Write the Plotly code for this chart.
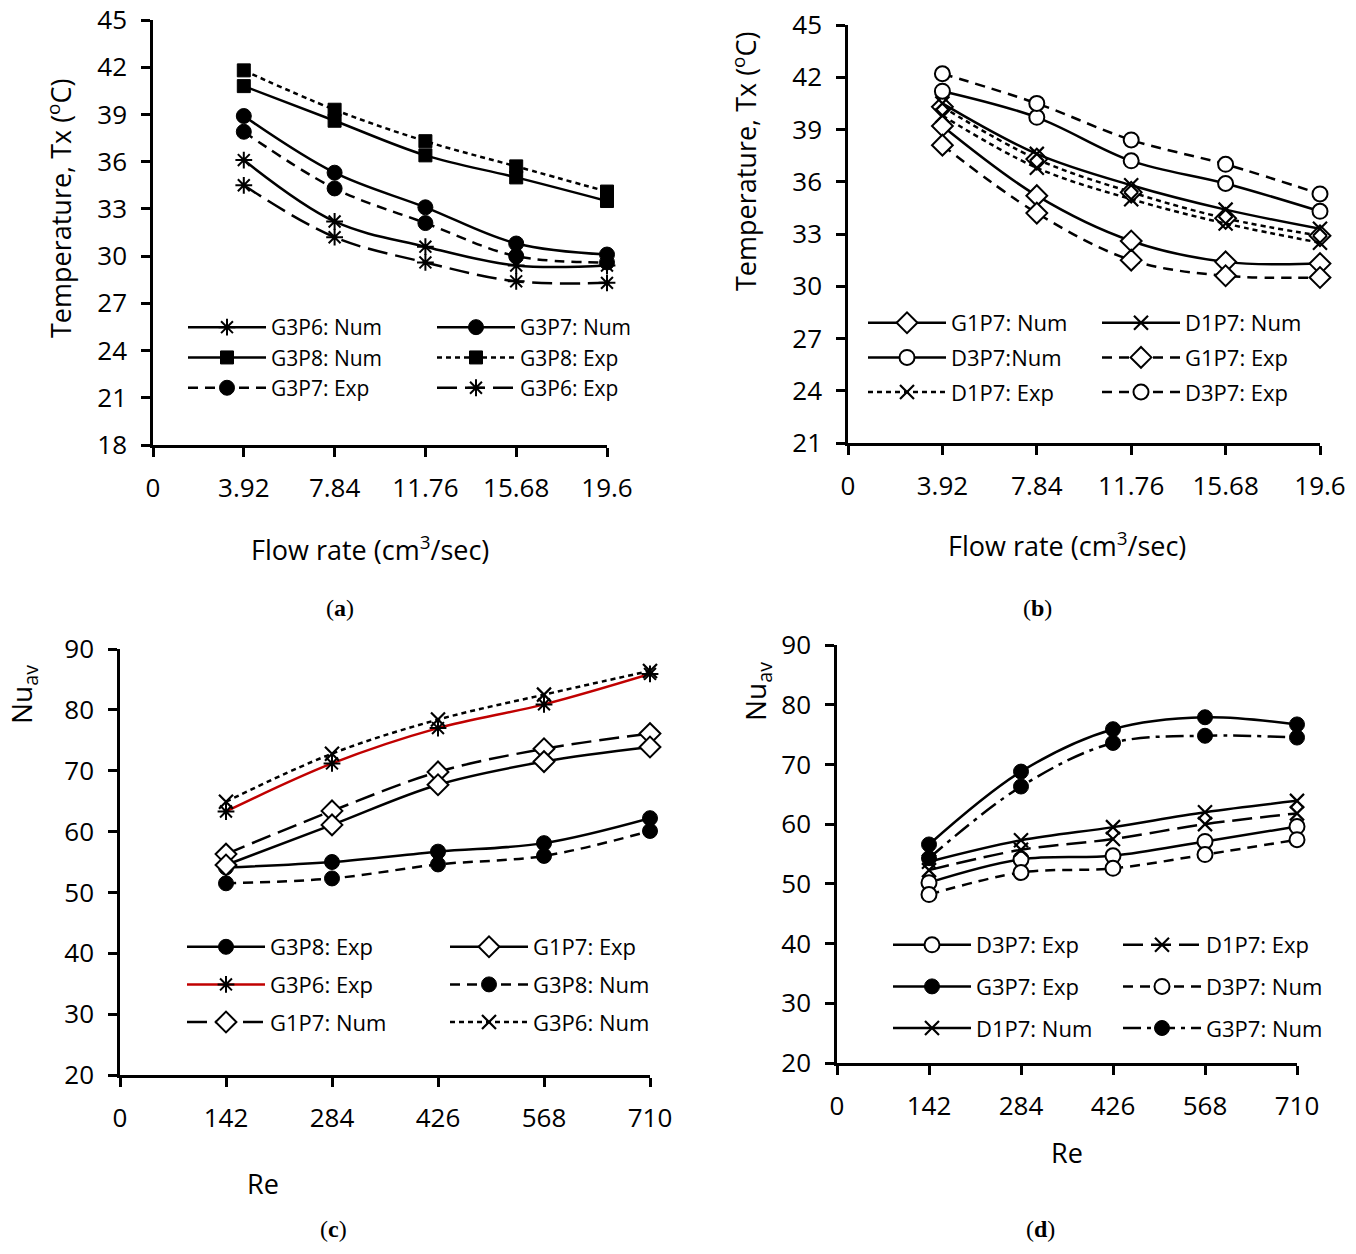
import plotly.graph_objects as go

# x values
flow = [3.92, 7.84, 11.76, 15.68, 19.6]
flow_ticks = [0, 3.92, 7.84, 11.76, 15.68, 19.6]
flow_labels = ["0", "3.92", "7.84", "11.76", "15.68", "19.6"]
re_vals = [142, 284, 426, 568, 710]
re_ticks = [0, 142, 284, 426, 568, 710]

# (a) temperature, G3 series
g3p6_num_a = [36.1, 32.2, 30.6, 29.4, 29.4]
g3p7_num_a = [38.9, 35.3, 33.1, 30.8, 30.1]
g3p8_num_a = [40.8, 38.6, 36.4, 35.0, 33.5]
g3p8_exp_a = [41.8, 39.3, 37.3, 35.7, 34.1]
g3p7_exp_a = [37.9, 34.3, 32.1, 30.0, 29.6]
g3p6_exp_a = [34.5, 31.2, 29.6, 28.4, 28.3]

# (b) temperature, G1/D series
g1p7_num_b = [39.2, 35.2, 32.6, 31.4, 31.3]
d1p7_num_b = [40.5, 37.6, 35.8, 34.4, 33.3]
d3p7_num_b = [41.2, 39.7, 37.2, 35.9, 34.3]
g1p7_exp_b = [38.1, 34.2, 31.5, 30.6, 30.5]
d1p7_exp_b = [39.8, 36.8, 35.0, 33.6, 32.5]
d3p7_exp_b = [42.2, 40.5, 38.4, 37.0, 35.3]
stray_diamonds_b = [40.3, 37.3, 35.4, 33.9, 32.9]

# (c) Nu_av
g3p8_exp_c = [54.1, 55.0, 56.7, 58.1, 62.2]
g1p7_exp_c = [54.5, 61.1, 67.7, 71.5, 73.9]
g3p6_exp_c = [63.3, 71.2, 77.0, 80.9, 85.9]
g3p8_num_c = [51.5, 52.3, 54.6, 56.0, 60.1]
g1p7_num_c = [56.3, 63.4, 69.8, 73.6, 76.1]
g3p6_num_c = [64.9, 72.8, 78.4, 82.5, 86.4]

# (d) Nu_av
d3p7_exp_d = [50.2, 54.1, 54.7, 57.1, 59.6]
d1p7_exp_d = [52.3, 55.7, 57.5, 60.0, 61.8]
g3p7_exp_d = [56.6, 68.8, 75.9, 77.9, 76.7]
d3p7_num_d = [48.2, 51.9, 52.6, 54.9, 57.4]
d1p7_num_d = [53.7, 57.3, 59.5, 62.0, 63.9]
g3p7_num_d = [54.3, 66.3, 73.6, 74.8, 74.5]

W, H = 1356, 1254
SHORT = "5px,4px"
MED = "10px,7px"
LONG = "20px,8px"
LDD = "18px,6px,4px,6px"

MK = {
    "star": dict(symbol="asterisk", size=14, color="black", line=dict(color="black", width=2)),
    "x": dict(symbol="x-thin", size=14, color="black", line=dict(color="black", width=2.2)),
    "dot": dict(symbol="circle", size=15, color="black", line=dict(color="black", width=1)),
    "ring": dict(symbol="circle", size=15, color="white", line=dict(color="black", width=2)),
    "diam": dict(symbol="diamond", size=16, color="white", line=dict(color="black", width=2)),
    "sq": dict(symbol="square", size=13, color="black", line=dict(color="black", width=1)),
}

fig = go.Figure()


def add(x, y, name, marker, dash, ax, legend, color="black", show=True):
    xa, ya = ax
    fig.add_trace(go.Scatter(
        x=x, y=y, name=name, mode="lines+markers",
        line=dict(color=color, width=2.5, dash=dash, shape="spline"),
        marker=MK[marker], xaxis=xa, yaxis=ya, legend=legend,
        legendgroup=name + xa, showlegend=show, cliponaxis=False,
    ))


A, B, C, D = ("x", "y"), ("x2", "y2"), ("x3", "y3"), ("x4", "y4")

# (a)
add(flow, g3p6_num_a, "G3P6: Num", "star", "solid", A, "legend")
add(flow, g3p8_num_a, "G3P8: Num", "sq", "solid", A, "legend")
add(flow, g3p7_exp_a, "G3P7: Exp", "dot", MED, A, "legend")
add(flow, g3p7_num_a, "G3P7: Num", "dot", "solid", A, "legend2")
add(flow, g3p8_exp_a, "G3P8: Exp", "sq", SHORT, A, "legend2")
add(flow, g3p6_exp_a, "G3P6: Exp", "star", LONG, A, "legend2")

# (b)
add(flow, stray_diamonds_b, "G1P7", "diam", SHORT, B, "legend3", show=False)
add(flow, g1p7_num_b, "G1P7: Num", "diam", "solid", B, "legend3")
add(flow, d3p7_num_b, "D3P7:Num", "ring", "solid", B, "legend3")
add(flow, d1p7_exp_b, "D1P7: Exp", "x", SHORT, B, "legend3")
add(flow, d1p7_num_b, "D1P7: Num", "x", "solid", B, "legend4")
add(flow, g1p7_exp_b, "G1P7: Exp", "diam", MED, B, "legend4")
add(flow, d3p7_exp_b, "D3P7: Exp", "ring", MED, B, "legend4")

# (c)
add(re_vals, g3p8_exp_c, "G3P8: Exp", "dot", "solid", C, "legend5")
add(re_vals, g3p6_exp_c, "G3P6: Exp", "star", "solid", C, "legend5", color="#C00000")
add(re_vals, g1p7_num_c, "G1P7: Num", "diam", LONG, C, "legend5")
add(re_vals, g1p7_exp_c, "G1P7: Exp", "diam", "solid", C, "legend6")
add(re_vals, g3p8_num_c, "G3P8: Num", "dot", MED, C, "legend6")
add(re_vals, g3p6_num_c, "G3P6: Num", "x", SHORT, C, "legend6")

# (d)
add(re_vals, d3p7_exp_d, "D3P7: Exp", "ring", "solid", D, "legend7")
add(re_vals, g3p7_exp_d, "G3P7: Exp", "dot", "solid", D, "legend7")
add(re_vals, d1p7_num_d, "D1P7: Num", "x", "solid", D, "legend7")
add(re_vals, d1p7_exp_d, "D1P7: Exp", "x", LONG, D, "legend8")
add(re_vals, d3p7_num_d, "D3P7: Num", "ring", MED, D, "legend8")
add(re_vals, g3p7_num_d, "G3P7: Num", "dot", LDD, D, "legend8")


def px(v):
    return v / W


def py(v):
    return 1 - v / H


tickfont = dict(family="Open Sans", size=26, color="black")
common = dict(showline=True, linecolor="black", linewidth=2.5, ticks="outside",
              ticklen=9, tickwidth=2.5, tickcolor="black", showgrid=False,
              zeroline=False, tickfont=tickfont, ticklabelstandoff=9,
              ticklabeloverflow="allow")

layout = dict(
    width=W, height=H, margin=dict(l=0, r=0, t=0, b=0, autoexpand=False),
    paper_bgcolor="white", plot_bgcolor="white",
    font=dict(family="Open Sans", color="black"),
    xaxis=dict(domain=[px(153), px(607)], range=[0, 19.6], tickvals=flow_ticks,
               ticktext=flow_labels, anchor="y", **common),
    yaxis=dict(domain=[py(445), py(20)], range=[18, 45], dtick=3, anchor="x", **common),
    xaxis2=dict(domain=[px(848), px(1320)], range=[0, 19.6], tickvals=flow_ticks,
                ticktext=flow_labels, anchor="y2", **common),
    yaxis2=dict(domain=[py(443), py(25)], range=[21, 45], dtick=3, anchor="x2", **common),
    xaxis3=dict(domain=[px(120), px(650)], range=[0, 710], tickvals=re_ticks,
                anchor="y3", **common),
    yaxis3=dict(domain=[py(1075), py(649)], range=[20, 90], dtick=10, anchor="x3", **common),
    xaxis4=dict(domain=[px(837), px(1297)], range=[0, 710], tickvals=re_ticks,
                anchor="y4", **common),
    yaxis4=dict(domain=[py(1063), py(645)], range=[20, 90], dtick=10, anchor="x4", **common),
)

# legend key: (left x, top y, group gap, font size) in pixels
leg_pos = {
    "legend": (183, 307, 0, 21), "legend2": (432, 307, 0, 21),
    "legend3": (863, 302, 3, 22), "legend4": (1097, 302, 3, 22),
    "legend5": (182, 926, 6, 22), "legend6": (445, 926, 6, 22),
    "legend7": (888, 924, 10, 22), "legend8": (1118, 924, 10, 22),
}
for key, (lx, ly, gap, fs) in leg_pos.items():
    layout[key] = dict(x=px(lx), y=py(ly), xanchor="left", yanchor="top",
                       bgcolor="rgba(0,0,0,0)", itemwidth=78,
                       font=dict(family="Open Sans", size=fs, color="black"),
                       tracegroupgap=gap, traceorder="grouped")

fig.update_layout(**layout)

texts = [
    ("Flow rate (cm<sup>3</sup>/sec)", 370, 548, 0, 27),
    ("Flow rate (cm<sup>3</sup>/sec)", 1067, 545, 0, 27),
    ("Re", 263, 1183, 0, 27),
    ("Re", 1067, 1152, 0, 27),
    ("Temperature, Tx (<sup>o</sup>C)", 60, 209, -90, 27),
    ("Temperature, Tx (<sup>o</sup>C)", 745, 161, -90, 27),
    ("Nu<sub>av</sub>", 23, 695, -90, 28),
    ("Nu<sub>av</sub>", 757, 692, -90, 28),
]
for t, x, y, ang, fs in texts:
    fig.add_annotation(text=t, x=px(x), y=py(y), xref="paper", yref="paper",
                       showarrow=False, textangle=ang,
                       font=dict(family="Open Sans", size=fs, color="black"),
                       xanchor="center", yanchor="middle")

cap_font = dict(family="Liberation Serif", size=24, color="black")
for t, x, y in [("a", 340, 608), ("b", 1037, 608), ("c", 333, 1229), ("d", 1040, 1229)]:
    fig.add_annotation(text="(<b>%s</b>)" % t, x=px(x), y=py(y), xref="paper",
                       yref="paper", showarrow=False, font=cap_font,
                       xanchor="center", yanchor="middle")

# drop the default page margin so the figure sits at the window's top-left corner
fig.write_html("out.html", config={"displayModeBar": False},
               post_script="document.body.style.margin = '0px';")
